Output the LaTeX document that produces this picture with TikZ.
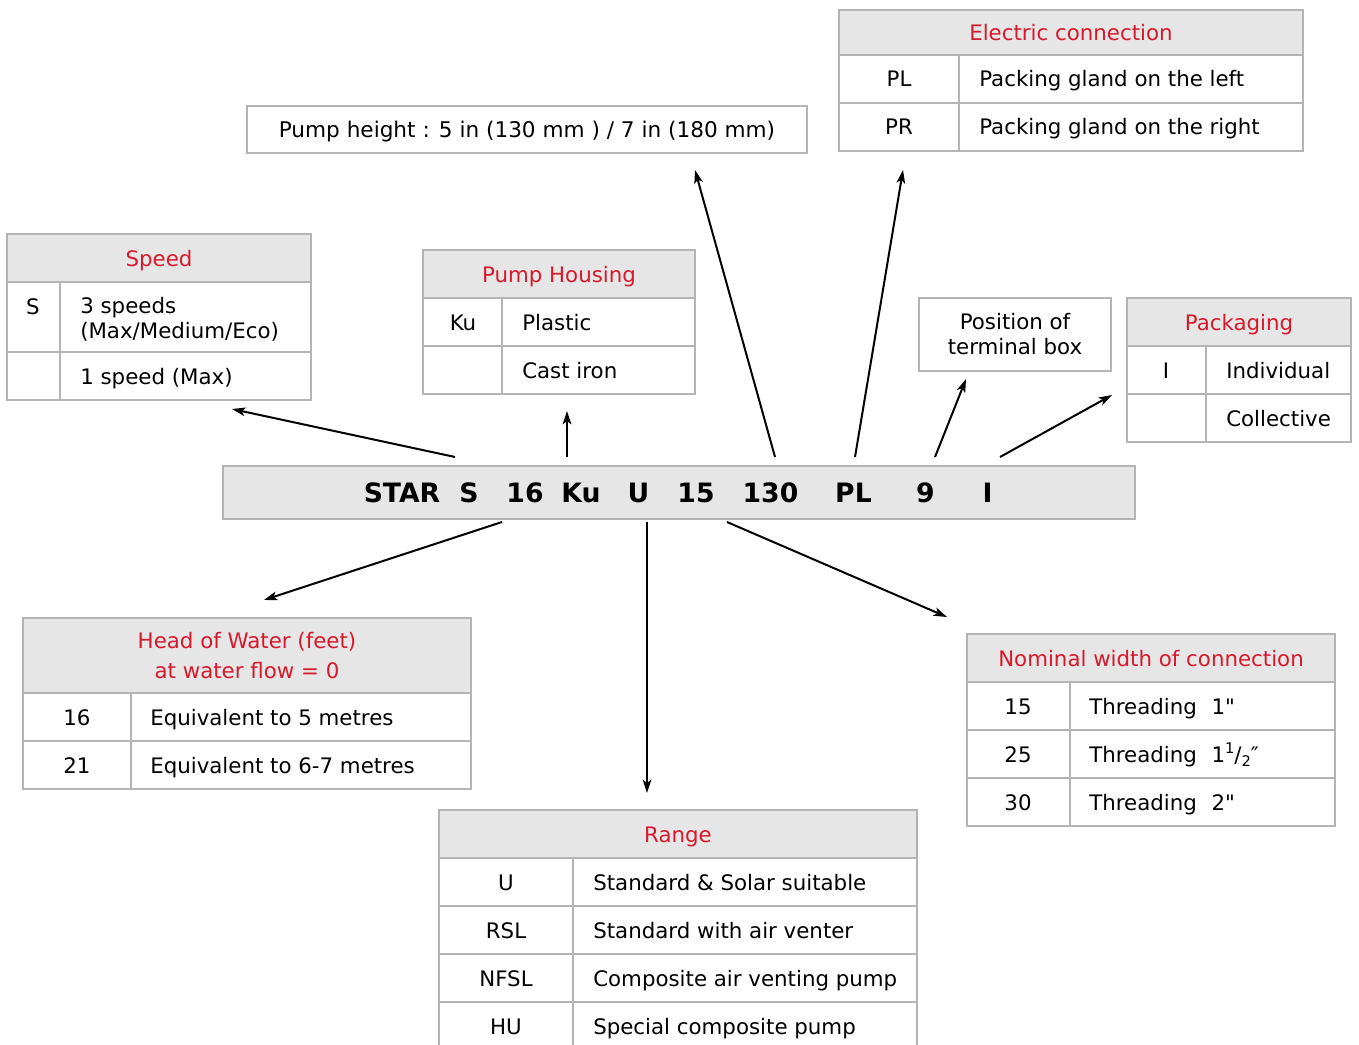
\documentclass[tikz,border=0pt]{standalone}
\usepackage{fontspec}
\setmainfont{DejaVu Sans}
\usetikzlibrary{arrows.meta}
\definecolor{tred}{HTML}{D7192D}
\definecolor{bgray}{HTML}{B4B4B4}
\definecolor{hgray}{HTML}{E6E6E6}
\tikzset{
  grid/.style={draw=bgray, line width=1.6pt},
  hdr/.style={fill=hgray},
  txt/.style={font=\fontsize{16}{18.75}\selectfont, inner sep=0pt, text=black},
  ttl/.style={txt, text=tred, anchor=base},
  code/.style={txt, anchor=base},
  desc/.style={txt, anchor=base west},
  tok/.style={font=\fontsize{20}{24}\selectfont\bfseries, inner sep=0pt, anchor=base},
  arr/.style={line width=1.5pt, -{Stealth[length=10pt,width=6.5pt,inset=2.5pt]}},
}
\newcommand\thrd{\hspace{11pt}}
\begin{document}
\begin{tikzpicture}[x=0.75pt,y=-0.75pt]
\useasboundingbox (0,0) rectangle (1359,1045);
\clip (0,0) rectangle (1359,1045);
\fill[white] (0,0) rectangle (1359,1045);

% ---------- Pump height box
\draw[grid] (247,106) rectangle (807,153);
\node[code, font=\fontsize{16.2}{19}\selectfont] (ph) at (527,137.5) {Pump height : 5 in (130 mm ) / 7 in (180 mm)};

% ---------- Electric connection
\fill[hdr] (839,10) rectangle (1303,55);
\draw[grid] (839,10) rectangle (1303,151);
\draw[grid] (839,55) -- (1303,55) (839,103) -- (1303,103) (959,55) -- (959,151);
\node[ttl] (ecT) at (1071,41) {Electric connection};
\node[code] (ec1) at (899,87) {PL};
\node[desc] (ec1d) at (979,87) {Packing gland on the left};
\node[code] (ec2) at (899,135) {PR};
\node[desc] (ec2d) at (979,135) {Packing gland on the right};

% ---------- Speed
\fill[hdr] (7,234) rectangle (311,282);
\draw[grid] (7,234) rectangle (311,400);
\draw[grid] (7,282) -- (311,282) (7,352) -- (311,352) (60,282) -- (60,400);
\node[ttl] (spT) at (159,266) {Speed};
\node[code] (sp1) at (33,314) {S};
\node[txt, anchor=north west, align=left] (sp1d) at (80,297.5) {3 speeds\\(Max/Medium/Eco)};
\node[desc] (sp2d) at (80,384) {1 speed (Max)};

% ---------- Pump Housing
\fill[hdr] (423,250) rectangle (695,298);
\draw[grid] (423,250) rectangle (695,394);
\draw[grid] (423,298) -- (695,298) (423,346) -- (695,346) (502,298) -- (502,394);
\node[ttl] (phT) at (559,282) {Pump Housing};
\node[code] (ph1) at (463,330) {Ku};
\node[desc] (ph1d) at (522,330) {Plastic};
\node[desc] (ph2d) at (522,378) {Cast iron};

% ---------- Position of terminal box
\draw[grid] (919,298) rectangle (1111,371);
\node[txt, align=center] (pos) at (1015,334) {Position of\\terminal box};

% ---------- Packaging
\fill[hdr] (1127,298) rectangle (1351,346);
\draw[grid] (1127,298) rectangle (1351,442);
\draw[grid] (1127,346) -- (1351,346) (1127,394) -- (1351,394) (1206,346) -- (1206,442);
\node[ttl] (pkT) at (1239,330) {Packaging};
\node[code] (pk1) at (1166,378) {I};
\node[desc] (pk1d) at (1226,378) {Individual};
\node[desc] (pk2d) at (1226,426) {Collective};

% ---------- Main bar
\fill[hgray] (223,466) rectangle (1135,519);
\draw[draw=bgray, line width=1.6pt] (223,466) rectangle (1135,519);
\node[tok] (tSTAR) at (402,502) {STAR};
\node[tok] (tS) at (469,502) {S};
\node[tok] (t16) at (525,502) {16};
\node[tok] (tKu) at (581,502) {Ku};
\node[tok] (tU) at (638.5,502) {U};
\node[tok] (t15) at (696,502) {15};
\node[tok] (t130) at (770.5,502) {130};
\node[tok] (tPL) at (853.5,502) {PL};
\node[tok] (t9) at (925.5,502) {9};
\node[tok] (tI) at (987.5,502) {I};

% ---------- Head of Water
\fill[hdr] (23,618) rectangle (471,693);
\draw[grid] (23,618) rectangle (471,789);
\draw[grid] (23,693) -- (471,693) (23,741) -- (471,741) (131,693) -- (131,789);
\node[txt, text=tred, align=center, font=\fontsize{16}{22.5}\selectfont] (hwT) at (247,656) {Head of Water (feet)\\at water flow = 0};
\node[code] (hw1) at (77,725) {16};
\node[desc] (hw1d) at (150,725) {Equivalent to 5 metres};
\node[code] (hw2) at (77,773) {21};
\node[desc] (hw2d) at (150,773) {Equivalent to 6-7 metres};

% ---------- Range
\fill[hdr] (439,810) rectangle (917,858);
\draw[grid] (439,810) rectangle (917,1050);
\draw[grid] (439,858) -- (917,858) (439,906) -- (917,906) (439,954) -- (917,954) (439,1002) -- (917,1002) (573,858) -- (573,1050);
\node[ttl] (rgT) at (678,842) {Range};
\node[code] (rg1) at (506,890) {U};
\node[desc] (rg1d) at (593,890) {Standard \& Solar suitable};
\node[code] (rg2) at (506,938) {RSL};
\node[desc] (rg2d) at (593,938) {Standard with air venter};
\node[code] (rg3) at (506,986) {NFSL};
\node[desc] (rg3d) at (593,986) {Composite air venting pump};
\node[code] (rg4) at (506,1034) {HU};
\node[desc] (rg4d) at (593,1034) {Special composite pump};

% ---------- Nominal width
\fill[hdr] (967,634) rectangle (1335,682);
\draw[grid] (967,634) rectangle (1335,826);
\draw[grid] (967,682) -- (1335,682) (967,730) -- (1335,730) (967,778) -- (1335,778) (1070,682) -- (1070,826);
\node[ttl] (nwT) at (1151,666) {Nominal width of connection};
\node[code] (nw1) at (1018,714) {15};
\node[desc] (nw1d) at (1089,714) {Threading\thrd 1\textquotedbl};
\node[code] (nw2) at (1018,762) {25};
\node[desc] (nw2d) at (1089,762) {Threading\thrd 1\raisebox{0.75ex}{\fontsize{11}{11}\selectfont 1}/\raisebox{-0.35ex}{\fontsize{11}{11}\selectfont 2}″};
\node[code] (nw3) at (1018,810) {30};
\node[desc] (nw3d) at (1089,810) {Threading\thrd 2\textquotedbl};

% ---------- Arrow end coordinates
\coordinate (aS0) at (455,457);   \coordinate (aS1) at (232,409);
\coordinate (aH0) at (567,457);   \coordinate (aH1) at (567,411);
\coordinate (aP0) at (775,457);   \coordinate (aP1) at (695,170);
\coordinate (aE0) at (855,457);   \coordinate (aE1) at (903,170);
\coordinate (aT0) at (935,457);   \coordinate (aT1) at (966,379);
\coordinate (aK0) at (1000,457);  \coordinate (aK1) at (1112,395);
\coordinate (aW0) at (502,522);   \coordinate (aW1) at (264,600);
\coordinate (aR0) at (647,522);   \coordinate (aR1) at (647,793);
\coordinate (aN0) at (727,522);   \coordinate (aN1) at (947,617);

\draw[arr] (aS0) -- (aS1);
\draw[arr] (aH0) -- (aH1);
\draw[arr] (aP0) -- (aP1);
\draw[arr] (aE0) -- (aE1);
\draw[arr] (aT0) -- (aT1);
\draw[arr] (aK0) -- (aK1);
\draw[arr] (aW0) -- (aW1);
\draw[arr] (aR0) -- (aR1);
\draw[arr] (aN0) -- (aN1);
\end{tikzpicture}
\end{document}
